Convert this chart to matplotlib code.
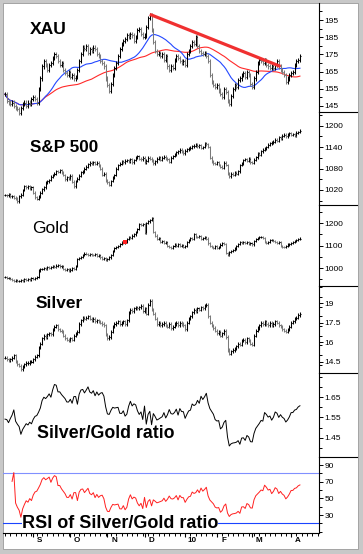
"""
XAU / S&P 500 / Gold / Silver panel chart, Aug 2009 - Apr 2010
"""

import matplotlib
matplotlib.use("Agg")
import matplotlib.pyplot as plt
import matplotlib.transforms as mtransforms
from matplotlib.lines import Line2D
from matplotlib.patches import Rectangle
from matplotlib.ticker import FormatStrFormatter, MultipleLocator

import numpy as np
import pandas as pd

plt.rcParams["font.family"] = ["Liberation Sans", "DejaVu Sans"]

# daily closes
xau_close = [
    152, 148, 147, 146, 147, 145, 144, 143, 141, 144,
    146, 147, 145, 147, 146, 149, 150, 149, 147, 155,
    161, 168, 171, 169, 166, 169, 170, 173, 175, 174,
    171, 169, 170, 166, 164, 163, 165, 162, 163, 161,
    162, 166, 171, 175, 179, 178, 180, 176, 178, 177,
    179, 178, 175, 174, 171, 170, 168, 161, 157, 154,
    158, 163, 167, 170, 174, 178, 181, 183, 184, 186,
    185, 187, 186, 183, 185, 189, 190, 187, 185, 186,
    191, 196, 198, 189, 182, 177, 175, 176, 174, 175,
    172, 174, 168, 166, 168, 167, 172, 174, 173, 171,
    170, 171, 169, 175, 177, 180, 182, 181, 185, 180,
    177, 176, 175, 176, 174, 171, 163, 159, 157, 156,
    157, 154, 152, 150, 155, 153, 148, 146, 151, 155,
    157, 156, 160, 161, 163, 164, 162, 165, 163, 158,
    156, 161, 165, 170, 172, 171, 170, 172, 169, 168,
    167, 168, 167, 169, 171, 168, 166, 165, 163, 159,
    161, 163, 164, 165, 169, 171, 172, 174,
]

spx_close = [
    1006, 1005, 1008, 1002, 1003, 998, 996, 988, 1002, 1007,
    1020, 1030, 1027, 1030, 1025, 1028, 1012, 1000, 996, 1002,
    1012, 1022, 1028, 1040, 1044, 1048, 1057, 1062, 1065, 1072,
    1071, 1075, 1068, 1062, 1050, 1055, 1052, 1060, 1043, 1030,
    1045, 1052, 1060, 1070, 1071, 1080, 1085, 1092, 1096, 1094,
    1098, 1093, 1096, 1088, 1080, 1062, 1066, 1046, 1042, 1035,
    1045, 1055, 1062, 1080, 1090, 1094, 1100, 1098, 1102, 1104,
    1100, 1106, 1098, 1104, 1110, 1115, 1108, 1106, 1110, 1098,
    1102, 1110, 1108, 1102, 1095, 1100, 1108, 1112, 1104, 1110,
    1113, 1108, 1106, 1099, 1110, 1115, 1120, 1125, 1128, 1132,
    1128, 1122, 1130, 1134, 1136, 1138, 1142, 1144, 1146, 1142,
    1145, 1138, 1140, 1150, 1148, 1140, 1110, 1100, 1095, 1093,
    1098, 1090, 1085, 1082, 1096, 1090, 1067, 1058, 1066, 1062,
    1068, 1065, 1072, 1090, 1094, 1104, 1106, 1102, 1108, 1098,
    1096, 1105, 1112, 1122, 1118, 1128, 1132, 1136, 1140, 1146,
    1150, 1152, 1155, 1160, 1158, 1168, 1165, 1172, 1174, 1170,
    1176, 1178, 1174, 1176, 1172, 1180, 1182, 1186,
]

gold_close = [
    960, 955, 958, 952, 948, 945, 947, 943, 944, 948,
    946, 950, 948, 952, 950, 955, 954, 958, 962, 990,
    996, 998, 1000, 998, 1004, 1002, 1006, 1008, 1004, 1012,
    1014, 1008, 1010, 998, 992, 996, 990, 994, 1000, 998,
    1010, 1040, 1045, 1050, 1060, 1065, 1062, 1058, 1062, 1060,
    1058, 1062, 1056, 1060, 1048, 1040, 1045, 1036, 1040, 1048,
    1060, 1075, 1090, 1095, 1100, 1108, 1115, 1112, 1118, 1130,
    1140, 1135, 1145, 1150, 1160, 1175, 1195, 1192, 1195, 1158,
    1200, 1208, 1215, 1222, 1160, 1145, 1132, 1135, 1118, 1120,
    1112, 1118, 1100, 1095, 1090, 1098, 1105, 1100, 1108, 1098,
    1102, 1096, 1100, 1118, 1125, 1135, 1132, 1150, 1140, 1138,
    1142, 1130, 1135, 1138, 1132, 1110, 1098, 1095, 1092, 1098,
    1090, 1095, 1105, 1112, 1108, 1068, 1060, 1072, 1078, 1082,
    1088, 1100, 1108, 1115, 1112, 1118, 1114, 1116, 1108, 1112,
    1106, 1122, 1130, 1134, 1138, 1140, 1136, 1118, 1112, 1115,
    1124, 1126, 1122, 1116, 1114, 1116, 1100, 1096, 1094, 1100,
    1106, 1108, 1112, 1118, 1122, 1126, 1130, 1132,
]

silver_close = [
    14.8, 14.7, 14.6, 14.7, 14.8, 15.0, 14.5, 14.3, 14.2, 13.9,
    14.1, 14.3, 14.4, 14.4, 14.5, 14.5, 14.7, 14.9, 15.0, 15.6,
    15.9, 16.3, 16.5, 16.4, 16.6, 16.7, 16.6, 17.0, 17.2, 17.3,
    17.0, 16.9, 16.8, 16.5, 16.3, 16.2, 16.1, 16.3, 16.2, 16.5,
    16.7, 16.8, 17.4, 17.7, 17.9, 17.8, 17.9, 18.0, 17.8, 17.7,
    17.8, 17.6, 17.7, 17.6, 17.5, 17.4, 17.3, 16.6, 16.3, 16.4,
    16.8, 17.2, 17.4, 17.5, 17.6, 17.4, 17.5, 17.6, 17.4, 17.7,
    18.3, 18.5, 18.4, 18.6, 18.7, 18.6, 18.7, 18.8, 18.4, 18.6,
    18.2, 18.9, 19.2, 18.5, 18.2, 17.8, 17.4, 17.5, 17.3, 17.4,
    17.5, 17.3, 17.2, 17.4, 17.1, 17.2, 17.4, 17.5, 17.3, 17.5,
    17.4, 17.3, 17.0, 17.5, 17.8, 18.0, 18.3, 18.5, 18.4, 18.6,
    18.5, 18.7, 18.6, 18.8, 18.9, 18.0, 17.5, 17.3, 17.1, 16.9,
    16.7, 16.8, 16.5, 16.7, 16.9, 16.4, 15.4, 15.1, 15.3, 15.4,
    15.5, 15.7, 15.9, 15.8, 16.1, 16.2, 16.0, 16.3, 16.1, 15.9,
    15.8, 16.5, 16.9, 17.1, 17.3, 17.5, 17.4, 17.6, 17.4, 17.3,
    17.5, 17.3, 17.4, 17.6, 17.5, 17.3, 17.2, 17.0, 16.9, 16.8,
    17.0, 17.2, 17.5, 17.6, 17.8, 17.9, 18.1, 18.2,
]

month_labels = ["S", "O", "N", "D", "10", "F", "M", "A"]
month_starts = [16, 37, 58, 79, 102, 120, 140, 162]

# XAU down-trend line (day index, price)
trend_x = [82, 156]
trend_y = [198.3, 168.0]

# red dot on the gold panel
gold_mark_day = 68

#

W, H = 363, 554
X0, X1 = 3, 319          # plot area, pixels
XLIM = (-1.13, 177.8)


def fx(px: float) -> float:
    return px / W


def fy(py: float) -> float:
    return 1 - py / H


def make_panel(fig, top, bottom, ylo, yhi, majors, minor_step, fmt="%g"):
    ax = fig.add_axes([fx(X0), fy(bottom), fx(X1 - X0), (bottom - top) / H])
    ax.patch.set_alpha(0)
    ax.set_xlim(*XLIM)
    ax.set_ylim(ylo, yhi)
    for side in ("left", "top", "bottom"):
        ax.spines[side].set_visible(False)
    ax.spines["right"].set_linewidth(0.8)
    ax.yaxis.tick_right()
    ax.set_yticks(majors)
    ax.yaxis.set_major_formatter(FormatStrFormatter(fmt))
    ax.yaxis.set_minor_locator(MultipleLocator(minor_step))
    ax.tick_params(axis="y", which="major", direction="out", length=3,
                   width=0.7, labelsize=6, pad=0.8, colors="black")
    ax.tick_params(axis="y", which="minor", direction="out", length=2.5,
                   width=0.7)
    ax.set_xticks([])
    return ax


def ohlc(ax, closes, pad):
    c = np.asarray(closes, dtype=float)
    o = np.concatenate([[c[0]], c[:-1]])
    hi = np.maximum(o, c) + pad
    lo = np.minimum(o, c) - pad
    x = np.arange(len(c))
    col = np.where(c >= o, "#000000", "#7a7a7a")
    ax.vlines(x, lo, hi, colors=col, lw=0.75, clip_on=False)
    ax.hlines(o, x - 0.6, x, colors=col, lw=0.75, clip_on=False)
    ax.hlines(c, x, x + 0.6, colors=col, lw=0.75, clip_on=False)


def main() -> None:
    fig = plt.figure(figsize=(W / 100, H / 100), dpi=100)
    fig.patch.set_facecolor("#c8c8c8")
    fig.add_artist(Rectangle((fx(3), fy(549)), fx(355), 546 / H,
                             transform=fig.transFigure, facecolor="white",
                             edgecolor="#9a9a9a", lw=0.6, zorder=-5))

    days = np.arange(len(xau_close))

    # XAU with moving averages and trend line
    ax = make_panel(fig, 3, 112, 141.5, 204.9,
                    [145, 155, 165, 175, 185, 195], 5)
    xau = pd.Series(xau_close, dtype=float)
    ax.plot(days, xau.rolling(50, min_periods=1).mean(), color="#ff2a2a",
            lw=0.8)
    ax.plot(days, xau.rolling(20, min_periods=1).mean(), color="#2448ff",
            lw=0.8)
    ohlc(ax, xau_close, 1.2)
    ax.plot(trend_x, trend_y, color="#f03030", lw=2.3, solid_capstyle="butt")

    # S&P 500
    ax = make_panel(fig, 112, 205, 978, 1238, [1020, 1080, 1140, 1200], 30)
    ohlc(ax, spx_close, 4)

    # Gold
    ax = make_panel(fig, 205, 286, 921, 1281, [1000, 1100, 1200], 50)
    ohlc(ax, gold_close, 5)
    ax.plot([gold_mark_day], [gold_close[gold_mark_day]], "s",
            color="#ff2020", ms=2.5, mew=0)

    # Silver
    ax = make_panel(fig, 286, 373, 13.63, 20.33, [14.5, 16, 17.5, 19], 0.75)
    ohlc(ax, silver_close, 0.12)

    # Silver/Gold ratio
    ratio = pd.Series(silver_close) / pd.Series(gold_close, dtype=float) * 100
    ax = make_panel(fig, 373, 457, 1.354, 1.770, [1.45, 1.55, 1.65], 0.05)
    ax.plot(days, ratio, color="black", lw=0.7)

    # RSI of the ratio
    delta = ratio.diff()
    gain = delta.clip(lower=0).ewm(alpha=1 / 14, min_periods=4).mean()
    loss = (-delta.clip(upper=0)).ewm(alpha=1 / 14, min_periods=4).mean()
    rsi = 100 - 100 / (1 + gain / loss)
    ax = make_panel(fig, 457, 533, 8.4, 99.6, [30, 50, 70, 90], 10)
    ax.axhline(80, color="#8090ff", lw=0.8)
    ax.axhline(20, color="#1a44ff", lw=0.8)
    ax.plot(days, rsi, color="#ff2020", lw=0.7)

    ax.spines["bottom"].set_visible(True)
    ax.spines["bottom"].set_linewidth(0.8)
    ax.set_xticks(month_starts)
    ax.set_xticklabels([])
    ax.xaxis.set_minor_locator(MultipleLocator(3))
    ax.tick_params(axis="x", which="major", direction="out", length=3.2,
                   width=0.8)
    ax.tick_params(axis="x", which="minor", direction="out", length=2.2,
                   width=0.7)
    lbl_tr = mtransforms.offset_copy(
        mtransforms.blended_transform_factory(ax.transData, ax.transAxes),
        fig=fig, x=4.8, y=-5.2, units="points")
    for pos, lab in zip(month_starts, month_labels):
        ax.text(pos, 0, lab, transform=lbl_tr, fontsize=5.8,
                fontweight="bold", ha="center", va="center")

    # separators in the price-scale strip
    for py in (112, 205, 286, 373, 457):
        fig.add_artist(Line2D([fx(X1), fx(357)], [fy(py), fy(py)],
                              color="black", lw=0.8))

    # panel titles
    fig.text(fx(30), fy(29), "XAU", fontsize=12.6, fontweight="bold",
             va="center")
    fig.text(fx(30), fy(147.5), "S&P 500", fontsize=12.3, fontweight="bold",
             va="center")
    fig.text(fx(32), fy(228), "Gold", fontsize=12.5, va="center")
    fig.text(fx(36), fy(304), "Silver", fontsize=12.4, fontweight="bold",
             va="center")
    fig.text(fx(37), fy(434), "Silver/Gold ratio", fontsize=12.8,
             fontweight="bold", va="center")
    fig.text(fx(22), fy(523), "RSI of Silver/Gold ratio", fontsize=13,
             fontweight="bold", va="center",
             bbox=dict(facecolor="white", edgecolor="none", pad=0))

    fig.savefig("out.png", dpi=100)


if __name__ == "__main__":
    main()
